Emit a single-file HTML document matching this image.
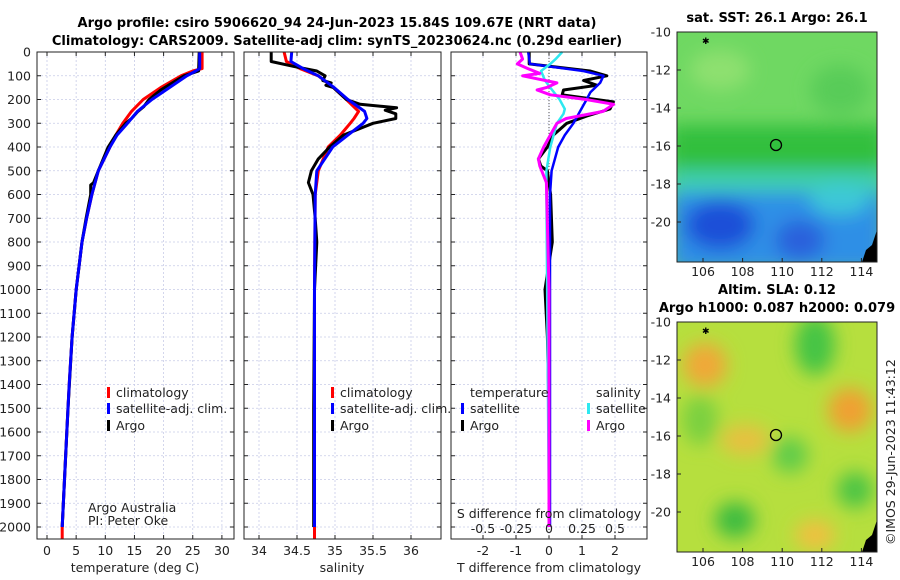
<!DOCTYPE html>
<html><head><meta charset="utf-8">
<style>
body{margin:0;background:#fff;}
svg{display:block;font-family:"DejaVu Sans","Liberation Sans",sans-serif;}
.t{font-size:12.5px;fill:#222;}
.b{font-weight:bold;font-size:13px;fill:#000;}
</style></head>
<body>
<svg id="c" width="900" height="580" viewBox="0 0 900 580" xmlns="http://www.w3.org/2000/svg">
<defs>
<filter id="bl" x="-30%" y="-30%" width="160%" height="160%"><feGaussianBlur stdDeviation="9"/></filter>
<clipPath id="m1"><rect x="677" y="32" width="200" height="230"/></clipPath>
<clipPath id="m2"><rect x="677" y="322" width="200" height="230"/></clipPath>
</defs>
<text class="b" x="337" y="27" text-anchor="middle">Argo profile: csiro 5906620_94 24-Jun-2023 15.84S 109.67E (NRT data)</text>
<text class="b" x="337" y="45" text-anchor="middle">Climatology: CARS2009. Satellite-adj clim: synTS_20230624.nc (0.29d earlier)</text>

<g clip-path="url(#m1)">
<rect x="677" y="32" width="200" height="230" fill="#6fd862"/>
<g filter="url(#bl)">
<ellipse cx="720" cy="70" rx="30" ry="20" fill="#8ee070"/>
<ellipse cx="840" cy="90" rx="30" ry="25" fill="#58cc58"/>
<rect x="670" y="125" width="215" height="45" fill="#30bf3c"/>
<rect x="670" y="170" width="215" height="25" fill="#3fcfb0"/>
<rect x="670" y="192" width="215" height="80" fill="#2f8fe6"/>
<ellipse cx="720" cy="225" rx="35" ry="25" fill="#1e4fd8"/>
<ellipse cx="800" cy="240" rx="25" ry="20" fill="#2a60dc"/>
<ellipse cx="840" cy="200" rx="30" ry="15" fill="#3cc8d8"/>
</g>
<path d="M862 262 L866 250 L872 245 L877 230 L877 262 Z" fill="#000"/>
<circle cx="776" cy="145" r="5.5" fill="none" stroke="#000" stroke-width="1.3"/>
<text x="702" y="44" font-size="9" fill="#000">✱</text>
</g>
<rect x="677" y="32" width="200" height="230" fill="none" stroke="#222"/>

<g clip-path="url(#m2)">
<rect x="677" y="322" width="200" height="230" fill="#b6df3e"/>
<g filter="url(#bl)">
<ellipse cx="705" cy="365" rx="22" ry="22" fill="#f0a838"/>
<ellipse cx="850" cy="410" rx="22" ry="22" fill="#f0a030"/>
<ellipse cx="745" cy="440" rx="25" ry="15" fill="#e8c040"/>
<ellipse cx="815" cy="345" rx="20" ry="30" fill="#44c444"/>
<ellipse cx="790" cy="455" rx="18" ry="18" fill="#60cc48"/>
<ellipse cx="735" cy="520" rx="20" ry="18" fill="#3cbc40"/>
<ellipse cx="855" cy="490" rx="18" ry="18" fill="#4cc444"/>
<ellipse cx="700" cy="420" rx="18" ry="25" fill="#7ad040"/>
<ellipse cx="815" cy="535" rx="20" ry="15" fill="#f0c040"/>
</g>
<path d="M862 552 L866 540 L872 535 L877 520 L877 552 Z" fill="#000"/>
<circle cx="776" cy="435" r="5.5" fill="none" stroke="#000" stroke-width="1.3"/>
<text x="702" y="334" font-size="9" fill="#000">✱</text>
</g>
<rect x="677" y="322" width="200" height="230" fill="none" stroke="#222"/>

<text class="b" x="777" y="22" text-anchor="middle">sat. SST: 26.1 Argo: 26.1</text>
<text class="b" x="777" y="294" text-anchor="middle">Altim. SLA: 0.12</text>
<text class="b" x="777" y="312" text-anchor="middle">Argo h1000: 0.087 h2000: 0.079</text>
<text class="t" x="0" y="0" transform="translate(895,545) rotate(-90)">©IMOS 29-Jun-2023 11:43:12</text>
</svg>
<script>
const depthT=[0,70,80,100,150,200,250,300,350,400,500,600,700,800,900,1000,1200,1400,1600,1800,2000,2050];
const climT=[26.6,26.6,25,23,19.5,16.5,14.5,13,11.8,10.8,8.8,7.7,6.8,6,5.5,5,4.3,3.8,3.4,3,2.6,2.6];
const satT=[26.2,26.2,25.5,24,21,18,15.5,13.8,12,10.8,8.8,7.7,6.8,6,5.5,5,4.3,3.8,3.4,3,2.6,2.6];
const argoDepth=[0,80,100,130,160,200,230,250,280,300,350,400,500,550,560,600,700,800,1000,1200,1500,1800,2000];
const argoT=[26.1,26,23.5,21.5,19.5,17.5,16.6,15.6,14.5,13.5,11.8,10.5,8.8,8,7.5,7.5,6.7,6,5,4.3,3.6,3,2.6];
const depthS=[0,40,70,100,150,200,250,280,300,350,400,500,600,1000,2000,2050];
const climS=[34.33,34.36,34.54,34.78,34.98,35.15,35.31,35.25,35.2,35.07,34.91,34.78,34.74,34.73,34.73,34.73];
const satS=[34.43,34.42,34.58,34.78,34.99,35.17,35.39,35.42,35.37,35.17,34.97,34.76,34.74,34.73,34.73,34.73];
const argoSDepth=[0,40,60,80,100,120,130,140,150,200,220,235,245,260,280,300,350,400,450,500,550,600,700,800,1000,1500,2000];
const argoS=[34.16,34.16,34.45,34.76,34.87,34.84,34.95,34.88,34.98,35.15,35.33,35.81,35.66,35.8,35.8,35.5,35.11,34.93,34.78,34.69,34.65,34.71,34.74,34.76,34.73,34.72,34.72];
const diffDepth=[0,50,80,100,120,140,160,180,210,240,270,300,350,400,450,480,500,600,800,1000,1200,1500,2000];
const dT_argo=[-0.6,-0.6,1.24,1.75,1.05,1.45,0.44,0.4,1.95,1.85,1.14,0.54,0.13,-0.05,-0.32,-0.25,-0.05,0.05,0.1,-0.12,-0.05,0,0];
const dT_satDepth=[0,50,80,100,130,170,200,250,300,350,400,450,500,600,2000];
const dT_sat=[-0.63,-0.58,1.04,1.65,1.55,1.25,1.14,0.94,0.74,0.48,0.28,0.18,0.08,0.03,0.03];
const dS_argoDepth=[0,30,50,70,90,100,130,150,160,180,200,220,250,280,300,350,400,450,480,550,1000,2000];
const dS_argo=[-0.22,-0.2,-0.24,-0.16,-0.07,-0.2,0.06,-0.02,-0.09,0.01,0.28,0.49,0.41,0.13,0.06,0.01,-0.04,-0.08,-0.07,-0.02,0,0];
const dS_satDepth=[0,30,50,80,120,150,200,240,260,300,400,500,600,2000];
const dS_sat=[0.1,0.05,0.01,-0.06,-0.03,0.01,0.08,0.12,0.11,0.06,0.01,-0.02,-0.02,0];
const depthTicks=[0,100,200,300,400,500,600,700,800,900,1000,1100,1200,1300,1400,1500,1600,1700,1800,1900,2000];
const tTicks=[0,5,10,15,20,25,30];
const sTicks=[34,34.5,35,35.5,36];
const dTTicks=[-2,-1,0,1,2];
const dSTicks=["-0.5","-0.25","0","0.25","0.5"];

const svg=document.getElementById('c');
const NS='http://www.w3.org/2000/svg';
const Y=d=>52+d*0.2375;
const PT={x0:37,x1:234,f:v=>47+v*5.83};
const PS={x0:244,x1:441,f:v=>297+(v-34.5)*76};
const PD={x0:451,x1:647,f:v=>549+v*33};
const fS=v=>549+v*132;
function mk(tag,at,name){const e=document.createElementNS(NS,tag);for(const k in at)e.setAttribute(k,at[k]);


svg.appendChild(e);return e;}
function txt(x,y,s,anchor,name,size){const e=mk('text',{x:x,y:y,'text-anchor':anchor||'start',class:'t'},name);if(size)e.setAttribute('font-size',size);e.textContent=s;return e;}
function panel(P,ticks,fx,name){
  for(const d of depthTicks)mk('line',{x1:P.x0,x2:P.x1,y1:Y(d),y2:Y(d),stroke:'#c8cce8','stroke-width':0.8,'stroke-dasharray':'2,2'},name+'-hgrid');
  for(const t of ticks){const x=fx(t);mk('line',{x1:x,x2:x,y1:52,y2:539,stroke:'#c8cce8','stroke-width':0.8,'stroke-dasharray':'2,2'},name+'-vgrid');
    mk('line',{x1:x,x2:x,y1:52,y2:56,stroke:'#222'},name+'-tick');mk('line',{x1:x,x2:x,y1:539,y2:535,stroke:'#222'},name+'-tick');}
  for(const d of depthTicks){mk('line',{x1:P.x0,x2:P.x0+4,y1:Y(d),y2:Y(d),stroke:'#222'},name+'-ytick');mk('line',{x1:P.x1,x2:P.x1-4,y1:Y(d),y2:Y(d),stroke:'#222'},name+'-ytick');}
}
function frame(P,name){mk('rect',{x:P.x0,y:52,width:P.x1-P.x0,height:487,fill:'none',stroke:'#222','stroke-width':1},name);}
function line(xs,ds,fx,col,w,name){let p='';for(let i=0;i<xs.length;i++)p+=(i?'L':'M')+fx(xs[i]).toFixed(1)+' '+Y(ds[i]).toFixed(1);
  mk('path',{d:p,fill:'none',stroke:col,'stroke-width':w,'stroke-linejoin':'round'},name);}

panel(PT,tTicks,PT.f,'temp-panel');panel(PS,sTicks,PS.f,'sal-panel');panel(PD,dTTicks,PD.f,'diff-panel');
mk('line',{x1:PD.f(0),x2:PD.f(0),y1:52,y2:539,stroke:'#555','stroke-dasharray':'1,2'},'zero-line');
line(climT,depthT,PT.f,'#f00',3,'temp-climatology-line');
line(argoT,argoDepth,PT.f,'#000',3,'temp-argo-line');
line(satT,depthT.slice(0,-1),PT.f,'#00f',3,'temp-satellite-line');
line(climS,depthS,PS.f,'#f00',3,'sal-climatology-line');
line(argoS,argoSDepth,PS.f,'#000',3,'sal-argo-line');
line(satS,depthS.slice(0,-1),PS.f,'#00f',3,'sal-satellite-line');
line(dT_argo,diffDepth,PD.f,'#000',3,'tdiff-argo-line');
line(dT_sat,dT_satDepth,PD.f,'#00f',2.5,'tdiff-satellite-line');
line(dS_sat,dS_satDepth,fS,'#2ee8f0',2.5,'sdiff-satellite-line');
line(dS_argo,dS_argoDepth,fS,'#f0f',3,'sdiff-argo-line');
frame(PT,'temp-panel-frame');frame(PS,'sal-panel-frame');frame(PD,'diff-panel-frame');

for(const d of depthTicks)txt(31,Y(d)+4.5,String(d),'end','depth-tick-label');
tTicks.forEach(t=>txt(PT.f(t),555,String(t),'middle','temp-tick-label'));
sTicks.forEach(t=>txt(PS.f(t),555,String(t),'middle','sal-tick-label'));
dTTicks.forEach(t=>txt(PD.f(t),555,String(t),'middle','tdiff-tick-label'));
dSTicks.forEach(t=>txt(fS(parseFloat(t)),533,t,'middle','sdiff-tick-label'));
txt(135,572,'temperature (deg C)','middle','temp-axis-title');
txt(342,572,'salinity','middle','sal-axis-title');
txt(549,572,'T difference from climatology','middle','tdiff-axis-title');
txt(549,518,'S difference from climatology','middle','sdiff-axis-title');
txt(88,512,'Argo Australia','start','institution-label',11);
txt(88,525,'PI: Peter Oke','start','pi-label',11);
function leg(x,y,col,label,name){mk('rect',{x:x,y:y-10,width:3,height:11,fill:col},name+'-marker');txt(x+9,y,label,'start',name);}
leg(107,397,'#f00','climatology','temp-legend-climatology');
leg(107,413,'#00f','satellite-adj. clim.','temp-legend-satellite');
leg(107,430,'#000','Argo','temp-legend-argo');
leg(331,397,'#f00','climatology','sal-legend-climatology');
leg(331,413,'#00f','satellite-adj. clim.','sal-legend-satellite');
leg(331,430,'#000','Argo','sal-legend-argo');
txt(470,397,'temperature','start','diff-legend-temp-header');
txt(596,397,'salinity','start','diff-legend-sal-header');
leg(461,413,'#00f','satellite','diff-legend-tsat');
leg(461,430,'#000','Argo','diff-legend-targo');
leg(587,413,'#2ee8f0','satellite','diff-legend-ssat');
leg(587,430,'#f0f','Argo','diff-legend-sargo');
const lonTicks=[106,108,110,112,114],latTicks=[-10,-12,-14,-16,-18,-20];
const LX=v=>703+(v-106)*19.8, LY=v=>32+(-10-v)*19;
[0,290].forEach((off,k)=>{const nm=k?'sla':'sst';
 lonTicks.forEach(v=>{txt(LX(v),off+276,String(v),'middle',nm+'-lon-label');mk('line',{x1:LX(v),x2:LX(v),y1:off+262,y2:off+258,stroke:'#222'},nm+'-lon-tick');});
 latTicks.forEach(v=>{txt(671,off+LY(v)+4.5,String(v),'end',nm+'-lat-label');mk('line',{x1:677,x2:681,y1:off+LY(v),y2:off+LY(v),stroke:'#222'},nm+'-lat-tick');});
});
</script>
</body></html>
